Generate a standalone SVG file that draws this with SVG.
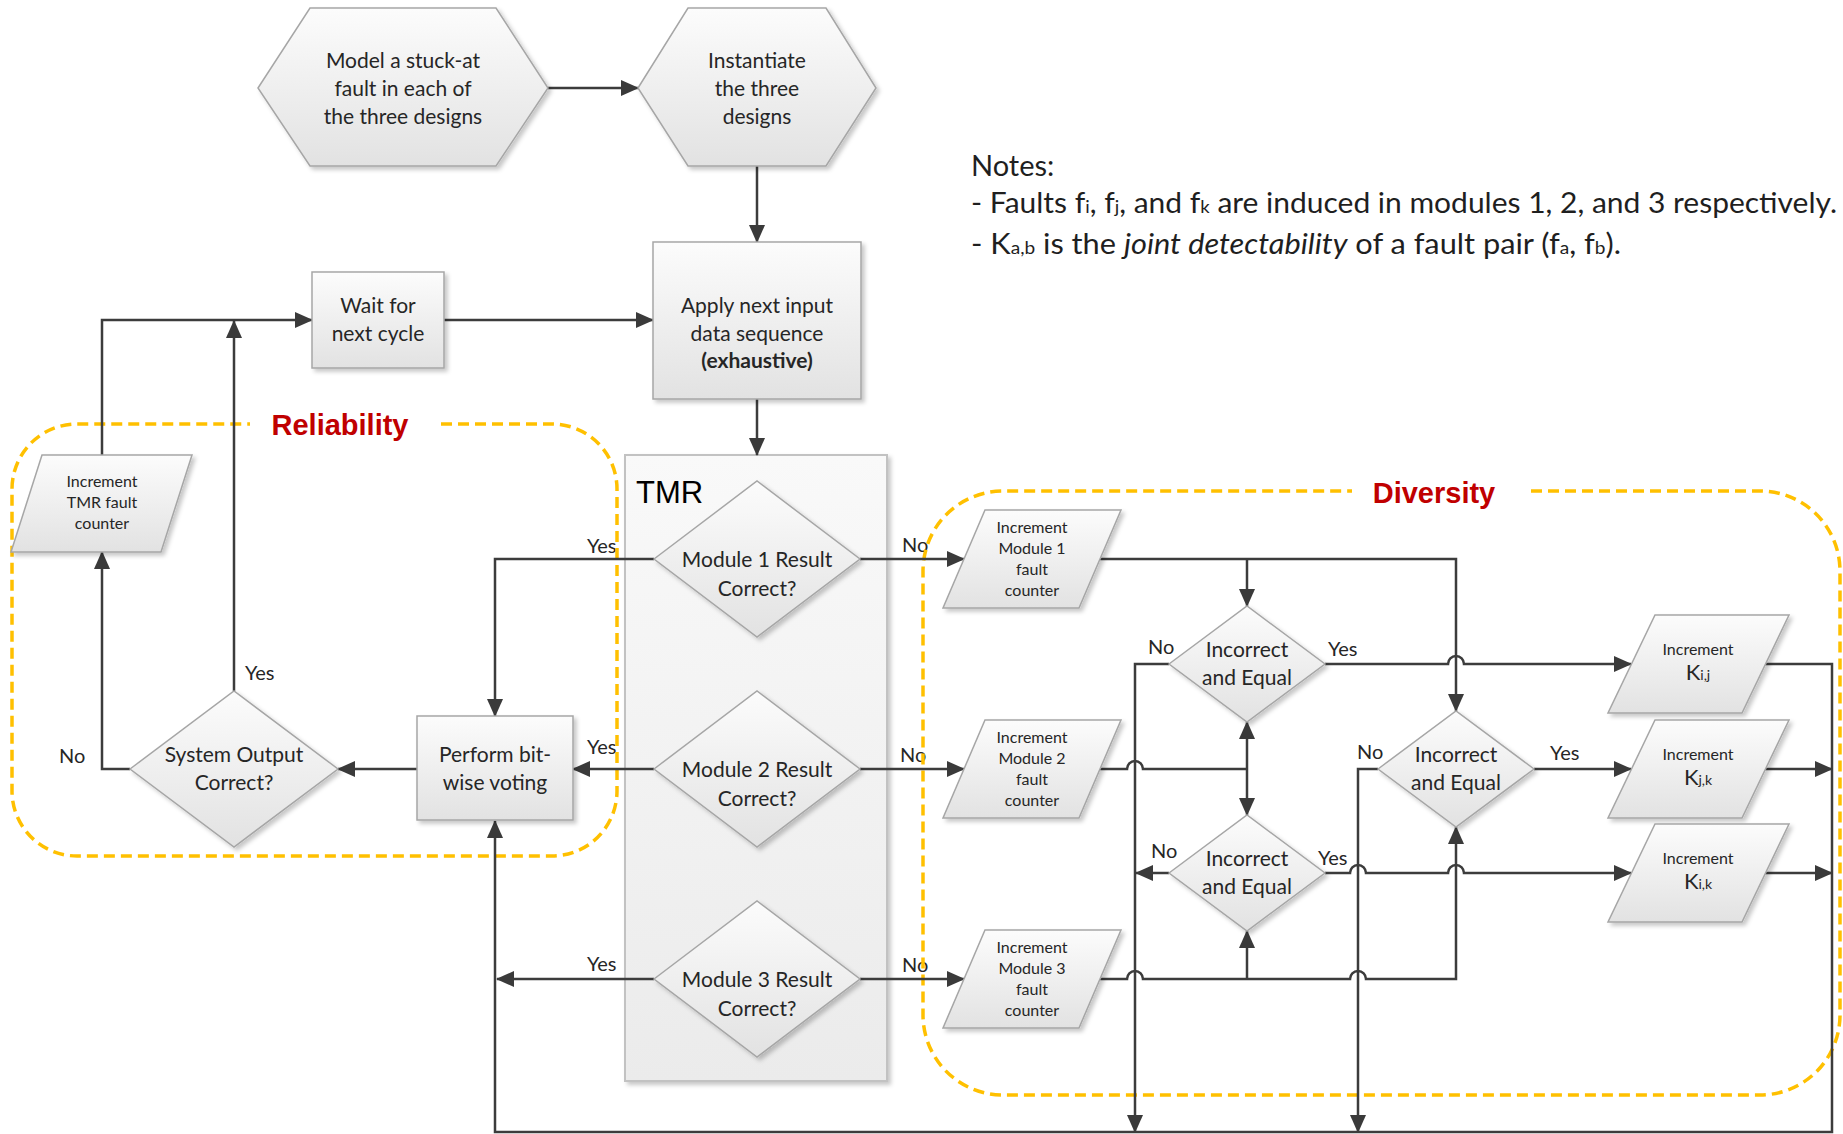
<svg xmlns="http://www.w3.org/2000/svg" width="1843" height="1134" viewBox="0 0 1843 1134">
  <defs>
    <linearGradient id="shapeFill" x1="0" y1="0" x2="0" y2="1">
      <stop offset="0" stop-color="#fcfcfc"/>
      <stop offset="1" stop-color="#e2e2e2"/>
    </linearGradient>
    <linearGradient id="laneFill" x1="0" y1="0" x2="0" y2="1">
      <stop offset="0" stop-color="#f9f9f9"/>
      <stop offset="1" stop-color="#ebebeb"/>
    </linearGradient>
    <filter id="shadow" x="-10%" y="-10%" width="130%" height="130%">
      <feDropShadow dx="3" dy="3" stdDeviation="2" flood-color="#000" flood-opacity="0.22"/>
    </filter>
    <marker id="arrow" markerUnits="userSpaceOnUse" markerWidth="18" markerHeight="16" refX="17" refY="8" orient="auto">
      <path d="M0,0 L18,8 L0,16 Z" fill="#3a3a3a"/>
    </marker>
  </defs>
  <style>
    .shape { fill: url(#shapeFill); stroke: #a6a6a6; stroke-width: 1.5; filter: url(#shadow); }
    .lane { fill: url(#laneFill); stroke: #c2c2c2; stroke-width: 2; filter: url(#shadow); }
    .t { font-family: Lato, "Liberation Sans", sans-serif; font-size: 21px; fill: #262626; text-anchor: middle; }
    .s { font-size: 16px; }
    .lbl { font-family: Lato, "Liberation Sans", sans-serif; font-size: 20px; fill: #262626; }
    .conn { fill: none; stroke: #3c3c3c; stroke-width: 2.5; }
    .arr { marker-end: url(#arrow); }
    .region { fill: none; stroke: #FFC000; stroke-width: 3.5; stroke-dasharray: 11 6; }
    .title { font-family: "Liberation Sans", Arial, sans-serif; font-weight: bold; font-size: 29px; fill: #C00000; text-anchor: middle; }
    .notes { font-family: Lato, "Liberation Sans", sans-serif; font-size: 29px; fill: #1f1f1f; }
    .sub { font-size: 18px; }
  </style>

  <rect width="1843" height="1134" fill="#ffffff"/>

  <!-- branch labels (drawn under the lane and the region outlines) -->
  <g id="edge-labels" class="lbl">
    <text x="587" y="553">Yes</text>
    <text x="587" y="754">Yes</text>
    <text x="587" y="971">Yes</text>
    <text x="902" y="552">No</text>
    <text x="900" y="762">No</text>
    <text x="902" y="972">No</text>
    <text x="59" y="763">No</text>
    <text x="245" y="680">Yes</text>
    <text x="1148" y="654">No</text>
    <text x="1328" y="656">Yes</text>
    <text x="1357" y="759">No</text>
    <text x="1550" y="760">Yes</text>
    <text x="1151" y="858">No</text>
    <text x="1318" y="865">Yes</text>
  </g>

  <!-- TMR swimlane -->
  <g id="tmr-lane">
    <rect class="lane" x="625" y="455" width="262" height="626"/>
    <text x="636" y="503" font-family="'Liberation Sans', Arial, sans-serif" font-size="31" fill="#000">TMR</text>
  </g>

  <!-- dashed grouping outlines -->
  <g id="regions">
    <path class="region" d="M441,424 H552 A65,65 0 0 1 617,489 V791 A65,65 0 0 1 552,856 H77 A65,65 0 0 1 12,791 V489 A65,65 0 0 1 77,424 H250"/>
    <text class="title" x="340" y="435">Reliability</text>
    <path class="region" d="M1531,491 H1760 A80,80 0 0 1 1840,571 V1015 A80,80 0 0 1 1760,1095 H1003 A80,80 0 0 1 923,1015 V571 A80,80 0 0 1 1003,491 H1352"/>
    <text class="title" x="1434" y="503">Diversity</text>
  </g>

  <!-- connectors -->
  <g id="connectors" class="conn">
    <path class="arr" d="M548,88 H638"/>
    <path class="arr" d="M757,166 V242"/>
    <path class="arr" d="M444,320 H653"/>
    <path class="arr" d="M757,399 V455"/>
    <path class="arr" d="M102,455 V320 H312"/>
    <path class="arr" d="M234,691 V321"/>
    <path class="arr" d="M130,769 H102 V552"/>
    <path class="arr" d="M417,769 H338"/>
    <path class="arr" d="M654,559 H495 V716"/>
    <path class="arr" d="M654,769 H573"/>
    <path class="arr" d="M654,979 H497"/>
    <path class="arr" d="M860,559 H964"/>
    <path class="arr" d="M860,769 H964"/>
    <path class="arr" d="M860,979 H964"/>
    <!-- module 1 counter feeds two comparators -->
    <path class="arr" d="M1100,559 H1456 V711"/>
    <path class="arr" d="M1247,559 V606"/>
    <!-- module 2 counter -->
    <path d="M1100,769 H1127 a8,8 0 0 1 16,0 H1247"/>
    <path class="arr" d="M1247,769 V722"/>
    <path class="arr" d="M1247,769 V815"/>
    <!-- module 3 counter -->
    <path class="arr" d="M1100,979 H1127 a8,8 0 0 1 16,0 H1350 a8,8 0 0 1 16,0 H1456 V827"/>
    <path class="arr" d="M1247,979 V931"/>
    <!-- comparator outcomes -->
    <path class="arr" d="M1169,664 H1135 V1132"/>
    <path class="arr" d="M1325,664 H1448 a8,8 0 0 1 16,0 H1631"/>
    <path class="arr" d="M1378,769 H1358 V1132"/>
    <path class="arr" d="M1534,769 H1631"/>
    <path class="arr" d="M1169,873 H1136"/>
    <path class="arr" d="M1325,873 H1350 a8,8 0 0 1 16,0 H1448 a8,8 0 0 1 16,0 H1631"/>
    <!-- return path to the voter -->
    <path class="arr" d="M1765,664 H1832 V1132 H495 V821"/>
    <path class="arr" d="M1765,769 H1832"/>
    <path class="arr" d="M1765,873 H1832"/>
  </g>

  <!-- nodes -->
  <g id="node-model-fault">
    <polygon class="shape" points="258,88 310,8 496,8 548,88 496,166 310,166"/>
    <text class="t" x="403" y="68">Model a stuck-at</text>
    <text class="t" x="403" y="96">fault in each of</text>
    <text class="t" x="403" y="124">the three designs</text>
  </g>
  <g id="node-instantiate">
    <polygon class="shape" points="638,88 688,8 826,8 876,88 826,166 688,166"/>
    <text class="t" x="757" y="68">Instantiate</text>
    <text class="t" x="757" y="96">the three</text>
    <text class="t" x="757" y="124">designs</text>
  </g>
  <g id="node-apply-input">
    <rect class="shape" x="653" y="242" width="208" height="157"/>
    <text class="t" x="757" y="313">Apply next input</text>
    <text class="t" x="757" y="341">data sequence</text>
    <text class="t" x="757" y="368" font-weight="bold" fill="#000">(exhaustive)</text>
  </g>
  <g id="node-wait">
    <rect class="shape" x="312" y="272" width="132" height="96"/>
    <text class="t" x="378" y="313">Wait for</text>
    <text class="t" x="378" y="341">next cycle</text>
  </g>
  <g id="node-module1">
    <polygon class="shape" points="654,559 757,481 860,559 757,637"/>
    <text class="t" x="757" y="567">Module 1 Result</text>
    <text class="t" x="757" y="596">Correct?</text>
  </g>
  <g id="node-module2">
    <polygon class="shape" points="654,769 757,691 860,769 757,847"/>
    <text class="t" x="757" y="777">Module 2 Result</text>
    <text class="t" x="757" y="806">Correct?</text>
  </g>
  <g id="node-module3">
    <polygon class="shape" points="654,979 757,901 860,979 757,1057"/>
    <text class="t" x="757" y="987">Module 3 Result</text>
    <text class="t" x="757" y="1016">Correct?</text>
  </g>
  <g id="node-voting">
    <rect class="shape" x="417" y="716" width="156" height="104"/>
    <text class="t" x="495" y="762">Perform bit-</text>
    <text class="t" x="495" y="790">wise voting</text>
  </g>
  <g id="node-system-output">
    <polygon class="shape" points="130,769 234,691 338,769 234,847"/>
    <text class="t" x="234" y="762">System Output</text>
    <text class="t" x="234" y="790">Correct?</text>
  </g>
  <g id="node-tmr-counter">
    <polygon class="shape" points="42,455 192,455 161,552 11,552"/>
    <text class="t s" x="102" y="487">Increment</text>
    <text class="t s" x="102" y="508">TMR fault</text>
    <text class="t s" x="102" y="529">counter</text>
  </g>
  <g id="node-m1-counter">
    <polygon class="shape" points="985,510 1121,510 1079,608 943,608"/>
    <text class="t s" x="1032" y="533">Increment</text>
    <text class="t s" x="1032" y="554">Module 1</text>
    <text class="t s" x="1032" y="575">fault</text>
    <text class="t s" x="1032" y="596">counter</text>
  </g>
  <g id="node-m2-counter">
    <polygon class="shape" points="985,720 1121,720 1079,818 943,818"/>
    <text class="t s" x="1032" y="743">Increment</text>
    <text class="t s" x="1032" y="764">Module 2</text>
    <text class="t s" x="1032" y="785">fault</text>
    <text class="t s" x="1032" y="806">counter</text>
  </g>
  <g id="node-m3-counter">
    <polygon class="shape" points="985,930 1121,930 1079,1028 943,1028"/>
    <text class="t s" x="1032" y="953">Increment</text>
    <text class="t s" x="1032" y="974">Module 3</text>
    <text class="t s" x="1032" y="995">fault</text>
    <text class="t s" x="1032" y="1016">counter</text>
  </g>
  <g id="node-cmp-ij">
    <polygon class="shape" points="1169,664 1247,606 1325,664 1247,722"/>
    <text class="t" x="1247" y="657">Incorrect</text>
    <text class="t" x="1247" y="685">and Equal</text>
  </g>
  <g id="node-cmp-jk">
    <polygon class="shape" points="1378,769 1456,711 1534,769 1456,827"/>
    <text class="t" x="1456" y="762">Incorrect</text>
    <text class="t" x="1456" y="790">and Equal</text>
  </g>
  <g id="node-cmp-ik">
    <polygon class="shape" points="1169,873 1247,815 1325,873 1247,931"/>
    <text class="t" x="1247" y="866">Incorrect</text>
    <text class="t" x="1247" y="894">and Equal</text>
  </g>
  <g id="node-k-ij">
    <polygon class="shape" points="1655,615 1789,615 1742,713 1608,713"/>
    <text class="t s" x="1698" y="655">Increment</text>
    <text class="t" x="1698" y="680"><tspan font-size="22">K</tspan><tspan font-size="14">i,j</tspan></text>
  </g>
  <g id="node-k-jk">
    <polygon class="shape" points="1655,720 1789,720 1742,818 1608,818"/>
    <text class="t s" x="1698" y="760">Increment</text>
    <text class="t" x="1698" y="785"><tspan font-size="22">K</tspan><tspan font-size="14">j,k</tspan></text>
  </g>
  <g id="node-k-ik">
    <polygon class="shape" points="1655,824 1789,824 1742,922 1608,922"/>
    <text class="t s" x="1698" y="864">Increment</text>
    <text class="t" x="1698" y="889"><tspan font-size="22">K</tspan><tspan font-size="14">i,k</tspan></text>
  </g>

  <!-- notes -->
  <g id="notes" class="notes">
    <text x="971" y="176">Notes:</text>
    <text x="971" y="213" textLength="866" lengthAdjust="spacingAndGlyphs">- Faults f<tspan class="sub">i</tspan>, f<tspan class="sub">j</tspan>, and f<tspan class="sub">k</tspan> are induced in modules 1, 2, and 3 respectively.</text>
    <text x="971" y="254" textLength="650" lengthAdjust="spacingAndGlyphs">- K<tspan class="sub">a,b</tspan> is the <tspan font-style="italic">joint detectability</tspan> of a fault pair (f<tspan class="sub">a</tspan>, f<tspan class="sub">b</tspan>).</text>
  </g>
</svg>
